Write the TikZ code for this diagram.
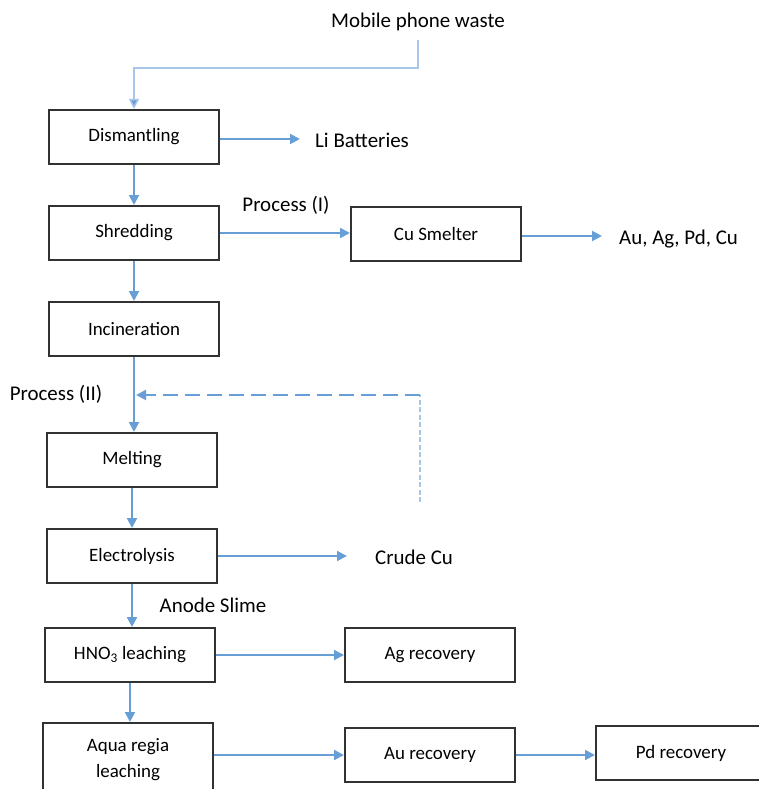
\documentclass[tikz,border=0pt]{standalone}
\usepackage{fontspec}
\setmainfont{Carlito}
\usetikzlibrary{arrows.meta,calc}
\definecolor{flowblue}{RGB}{104,158,214}
\definecolor{paleblue}{RGB}{168,198,232}
\definecolor{boxline}{RGB}{50,50,50}
\tikzset{
  procbox/.style={draw=boxline, line width=2bp, minimum width=170bp, minimum height=54bp,
    inner sep=0pt, font=\fontsize{19}{26}\selectfont, align=center},
  freelabel/.style={inner sep=0pt, font=\fontsize{21}{25}\selectfont},
  flow/.style={draw=flowblue, line width=2bp, -{Triangle[length=10bp,width=10bp]}},
  feed/.style={draw=paleblue, line width=1.5bp, -{Triangle[length=10bp,width=10bp,fill=flowblue]}},
  recycle/.style={draw=flowblue, line width=2bp, dash pattern=on 15bp off 7bp,
    -{Triangle[length=10bp,width=10bp]}},
  recyclerise/.style={draw=paleblue, line width=1.3bp, dash pattern=on 5bp off 2.5bp}
}
\begin{document}
\begin{tikzpicture}[x=1bp,y=-1bp]
\useasboundingbox (0,0) rectangle (759,789);

% main process column
\node[procbox] (dis) at (134,137) {Dismantling};
\node[procbox] (shr) at (134,233) {Shredding};
\node[procbox] (inc) at (134,329) {Incineration};
\node[procbox] (mel) at (132,460) {Melting};
\node[procbox] (ele) at (132,556) {Electrolysis};
\node[procbox] (hno) at (130,655) {HNO\textsubscript{3} leaching};
\node[procbox, minimum height=74bp] (aqu) at (128,760) {Aqua regia\\leaching};

% side boxes
\node[procbox] (cus) at (436,234) {Cu Smelter};
\node[procbox] (agr) at (430,655) {Ag recovery};
\node[procbox] (aur) at (430,755) {Au recovery};
\node[procbox] (pdr) at (681,753) {Pd recovery};

% free labels
\node[freelabel] (mpw) at (418,22) {Mobile phone waste};
\node[freelabel, anchor=west] (li) at (315,140) {Li Batteries};
\node[freelabel, anchor=west] (met) at (619,239) {Au, Ag, Pd, Cu};
\node[freelabel, anchor=west] (crude) at (375,557) {Crude Cu};
\node[freelabel] (p1) at (286,205) {Process (I)};
\node[freelabel] (p2) at (56,394) {Process (II)};
\node[freelabel] (anode) at (213,605) {Anode Slime};

% feed from the waste stream
\coordinate (feedtop) at (418,40);
\coordinate (feedbend) at (418,68);
\draw[feed] (feedtop) -- (feedbend) -- (dis.north |- feedbend) -- (dis.north);

% vertical flow
\draw[flow] (dis.south) -- (dis.south |- shr.north);
\draw[flow] (shr.south) -- (shr.south |- inc.north);
\draw[flow] (inc.south) -- (inc.south |- mel.north);
\draw[flow] (mel.south) -- (mel.south |- ele.north);
\draw[flow] (ele.south) -- (ele.south |- hno.north);
\draw[flow] (hno.south) -- (hno.south |- aqu.north);

% side streams
\coordinate (liend) at (300,139);
\coordinate (metend) at (602,236);
\coordinate (crudeend) at (347,556);
\draw[flow] (dis.east |- liend) -- (liend);
\draw[flow] (shr.east) -- (cus.west |- shr.east);
\draw[flow] (cus.east |- metend) -- (metend);
\draw[flow] (ele.east) -- (crudeend);
\draw[flow] (hno.east) -- (agr.west |- hno.east);
\draw[flow] (aqu.east |- aur) -- (aur.west);
\draw[flow] (aur.east) -- (pdr.west |- aur.east);

% crude copper returned to melting
\coordinate (retstart) at (420,502);
\coordinate (retbend) at (420,395);
\draw[recyclerise] (retstart) -- (retbend);
\draw[recycle] (retbend) -- ($(inc.south |- retbend)+(2,0)$);
\end{tikzpicture}
\end{document}
